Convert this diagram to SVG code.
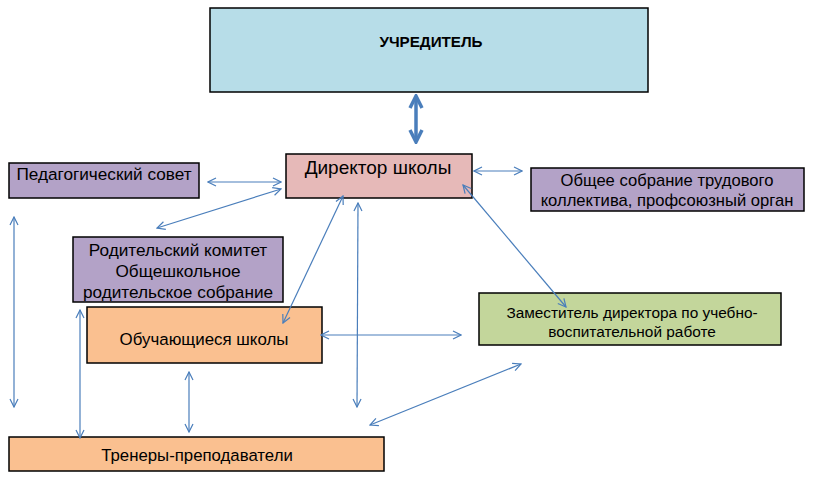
<svg xmlns="http://www.w3.org/2000/svg" width="817" height="478" viewBox="0 0 817 478">
<defs>
<style>
.box{stroke:#000;stroke-width:1.5}
.t{font-family:"Liberation Sans",Arial,sans-serif;font-size:16.6px;fill:#000;text-anchor:middle;dominant-baseline:central}
.c{fill:none;stroke:#4a7ebb;stroke-width:1.2;marker-start:url(#ah);marker-end:url(#ah)}
</style>
<marker id="ah" viewBox="0 0 10 10" refX="9" refY="5" markerWidth="10" markerHeight="10" markerUnits="userSpaceOnUse" orient="auto-start-reverse">
<path d="M1,1 L9,5 L1,9" fill="none" stroke="#4a7ebb" stroke-width="1.2"/>
</marker>
<marker id="ahb" viewBox="0 0 16 16" refX="14" refY="8" markerWidth="16" markerHeight="16" markerUnits="userSpaceOnUse" orient="auto-start-reverse">
<path d="M2,2 L14,8 L2,14" fill="none" stroke="#4a7ebb" stroke-width="3.5" stroke-linejoin="miter"/>
</marker>
</defs>
<rect width="817" height="478" fill="#fff"/>
<g id="uchreditel">
<rect class="box" x="210" y="8" width="438" height="84" fill="#b7dde8"/>
<text class="t" x="431" y="41" style="font-weight:bold;font-size:15.2px">УЧРЕДИТЕЛЬ</text>
</g>
<g id="direktor">
<rect class="box" x="286" y="154" width="186" height="44" fill="#e6b9b8"/>
<text class="t" x="378" y="167" style="font-size:19px">Директор школы</text>
</g>
<g id="pedsovet">
<rect class="box" x="9" y="163" width="190" height="35" fill="#b3a2c7"/>
<text class="t" x="104" y="174" style="font-size:17.2px">Педагогический совет</text>
</g>
<g id="obshchee">
<rect class="box" x="531" y="168" width="273" height="43" fill="#b3a2c7"/>
<text class="t" x="667" y="180">Общее собрание трудового</text>
<text class="t" x="667" y="200">коллектива, профсоюзный орган</text>
</g>
<g id="roditeli">
<rect class="box" x="73" y="237" width="210" height="65" fill="#b3a2c7"/>
<text class="t" x="178" y="250" style="font-size:17.2px">Родительский комитет</text>
<text class="t" x="178" y="271" style="font-size:17.2px">Общешкольное</text>
<text class="t" x="178" y="292" style="font-size:17.2px">родительское собрание</text>
</g>
<g id="obuchayushchiesya">
<rect class="box" x="87" y="307" width="235" height="56" fill="#fac090"/>
<text class="t" x="204" y="339" style="font-size:16.9px">Обучающиеся школы</text>
</g>
<g id="zamestitel">
<rect class="box" x="479" y="293" width="302" height="52" fill="#c3d69b"/>
<text class="t" x="632" y="312" style="font-size:15.4px">Заместитель директора по учебно-</text>
<text class="t" x="632" y="331" style="font-size:15.4px">воспитательной работе</text>
</g>
<g id="trenery">
<rect class="box" x="9" y="437" width="375" height="34" fill="#fac090"/>
<text class="t" x="197" y="455" style="font-size:16.8px">Тренеры-преподаватели</text>
</g>
<g id="connectors">
<line x1="416" y1="96" x2="416" y2="142" stroke="#4a7ebb" stroke-width="3.5" marker-start="url(#ahb)" marker-end="url(#ahb)"/>
<line class="c" x1="208" y1="182" x2="281" y2="182"/>
<line class="c" x1="281" y1="189" x2="157" y2="228"/>
<line class="c" x1="474" y1="171" x2="522" y2="171"/>
<line class="c" x1="343" y1="196" x2="283" y2="323"/>
<line class="c" x1="358" y1="203" x2="357" y2="407"/>
<line class="c" x1="463" y1="185" x2="566" y2="307"/>
<line class="c" x1="321" y1="335" x2="461" y2="335"/>
<line class="c" x1="521" y1="364" x2="370" y2="425"/>
<line class="c" x1="14" y1="217" x2="14" y2="407"/>
<line class="c" x1="80" y1="310" x2="80" y2="438"/>
<line class="c" x1="189" y1="372" x2="189" y2="432"/>
</g>
</svg>
